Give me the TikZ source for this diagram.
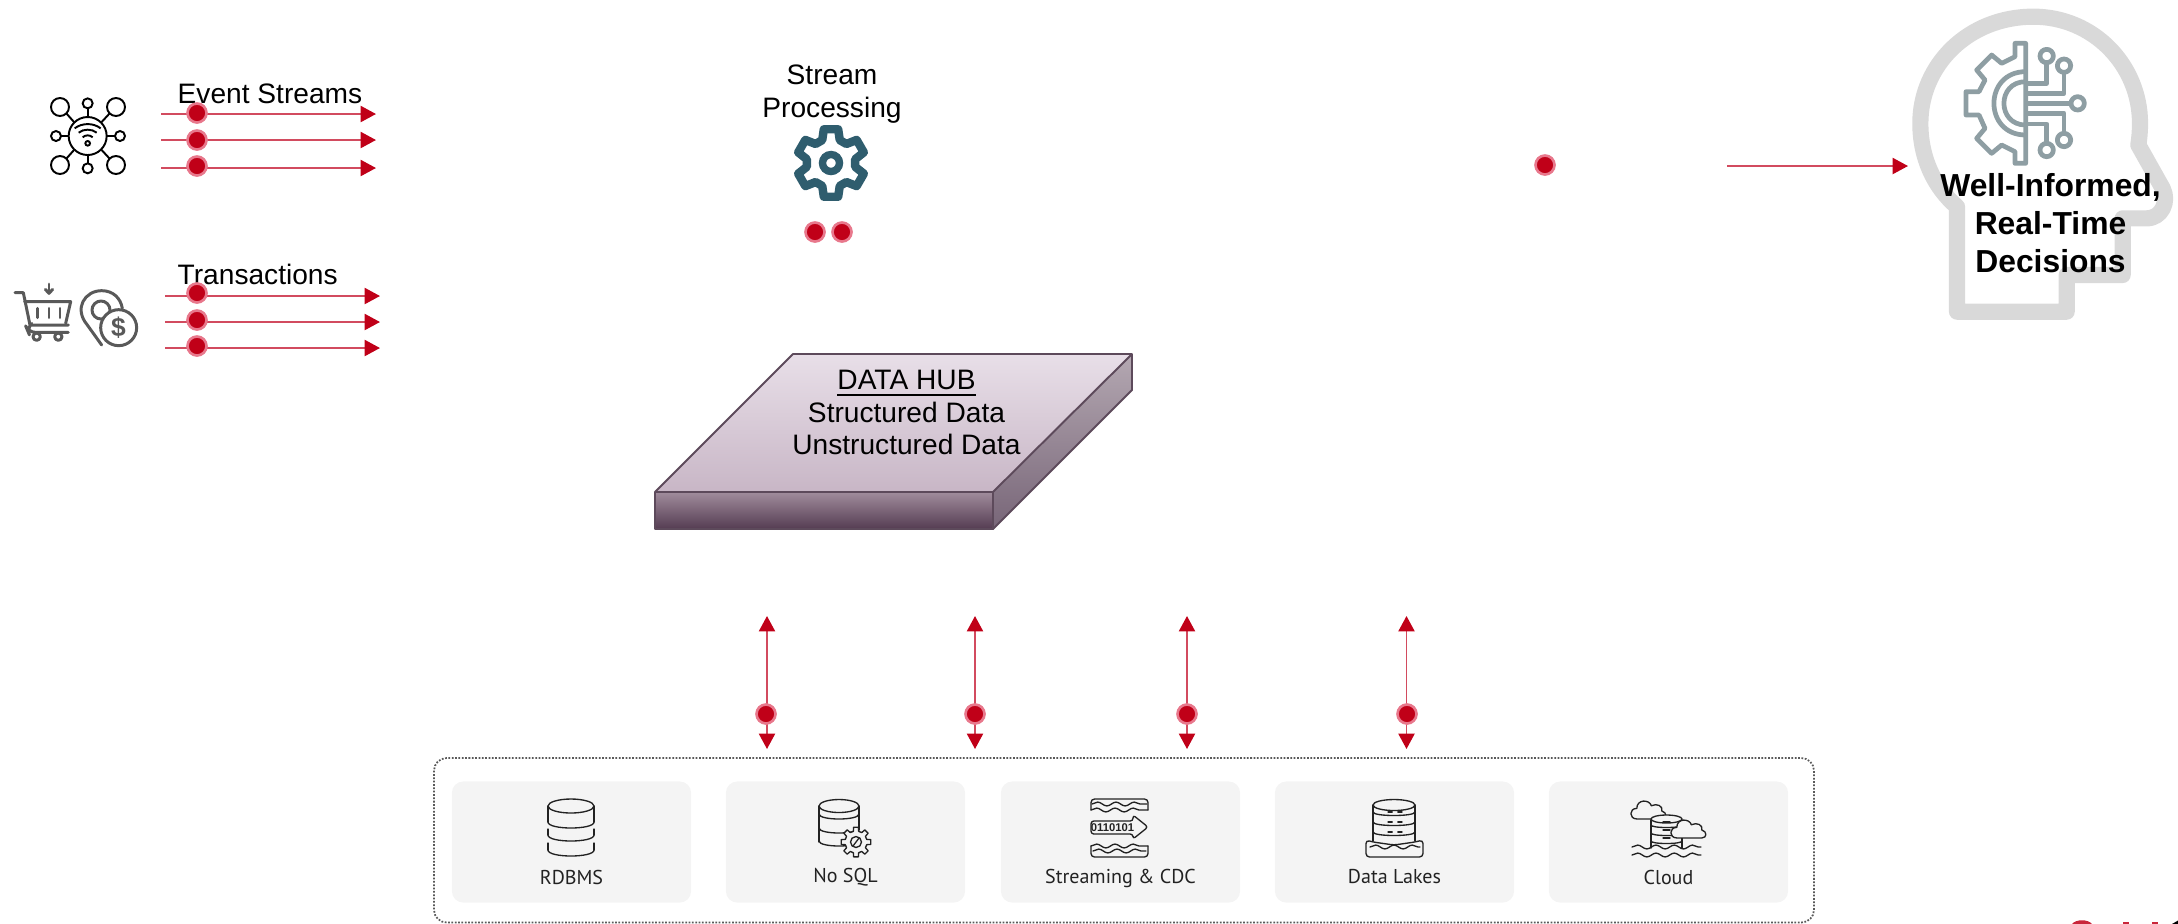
\documentclass[tikz,border=0pt]{standalone}
\usepackage{fontspec}
\setmainfont{Liberation Sans}
\newfontfamily\cardfont{PT Sans}
\usetikzlibrary{arrows.meta,decorations.pathmorphing}
\definecolor{flowred}{HTML}{C00018}
\definecolor{flowline}{HTML}{D24B5F}
\definecolor{flowring}{HTML}{E8788C}
\definecolor{headgray}{HTML}{D9D9D9}
\definecolor{gearblue}{HTML}{2F5D6E}
\definecolor{chipgray}{HTML}{8E9EA3}
\definecolor{cardgray}{HTML}{F4F4F4}
\definecolor{hubline}{HTML}{5D4A5B}
\definecolor{iconink}{HTML}{222222}
\definecolor{shopink}{HTML}{595959}
\definecolor{hubtop}{HTML}{E8DFE8}
\definecolor{hubtopb}{HTML}{C8B6C6}
\definecolor{hubfront}{HTML}{A08C9C}
\definecolor{hubfrontb}{HTML}{553C52}
\definecolor{hubside}{HTML}{B4A8B2}
\definecolor{hubsideb}{HTML}{786678}
\tikzset{
  flowarrow/.style={draw=flowline,line width=0.55pt,-{Triangle[length=4.4pt,width=4.6pt,color=flowred]}},
  flowboth/.style={draw=flowline,line width=0.55pt,{Triangle[length=4.4pt,width=4.6pt,color=flowred]}-{Triangle[length=4.4pt,width=4.6pt,color=flowred]}},
  dot/.style={circle,fill=flowred,draw=flowring,line width=0.75pt,minimum size=0.19cm,inner sep=0pt,outer sep=0pt},
  lab/.style={font=\fontsize{8}{9.2}\selectfont,inner sep=0pt,text=black},
  cardbox/.style={fill=cardgray,rounded corners=3.2pt},
  cardlabel/.style={font=\cardfont\fontsize{5.7}{7}\selectfont,text=iconink,inner sep=0pt},
  icon/.style={draw=iconink,line width=0.38pt,line join=round,line cap=round},
  netink/.style={draw=black,line width=0.55pt},
  shop/.style={draw=shopink,line width=0.85pt,line join=round,line cap=round},
  chip/.style={draw=chipgray,line width=1.35pt,line join=round},
  wave/.style={decorate,decoration={snake,amplitude=0.55pt,segment length=5.2pt}},
}
% gear outline: centre x, y, valley radius, tip radius, teeth, half width of tip, half width of foot
\newcommand\gearoutline[8]{%
  \draw[#1] ({#2+#4*cos(90-#8)},{#3-#4*sin(90-#8)})
  \foreach \gi in {1,...,#6}{
    -- ({#2+#5*cos(90+(\gi-1)*360/#6-#7)},{#3-#5*sin(90+(\gi-1)*360/#6-#7)})
    -- ({#2+#5*cos(90+(\gi-1)*360/#6+#7)},{#3-#5*sin(90+(\gi-1)*360/#6+#7)})
    -- ({#2+#4*cos(90+(\gi-1)*360/#6+#8)},{#3-#4*sin(90+(\gi-1)*360/#6+#8)})
    -- ({#2+#4*cos(90+\gi*360/#6-#8)},{#3-#4*sin(90+\gi*360/#6-#8)})
  } -- cycle;}
% lower arc of a database drum
\newcommand\drumarc[4]{\draw[icon] (#1-#3,#2) .. controls (#1-#3,#2+#4*1.33) and (#1+#3,#2+#4*1.33) .. (#1+#3,#2);}
\newcommand\cloudshape[3]{%
  \begin{scope}[shift={(#1,#2)},scale=#3]
  \draw[icon,fill=cardgray] (-20,12) .. controls (-32,12) and (-32,-4) .. (-20,-4)
    .. controls (-20,-18) and (-1,-18) .. (2,-8) .. controls (10,-12) and (20,-8) .. (18,0)
    .. controls (26,2) and (26,12) .. (18,12) -- cycle;
  \end{scope}}
\begin{document}
\begin{tikzpicture}[x=0.01cm,y=-0.01cm]
\useasboundingbox (0,0) rectangle (2178,923);

% ---------- head ----------
\begin{scope}[shift={(1880,0)},scale=1/3]
  \draw[draw=headgray,line width=4.6pt,line join=round,rounded corners=0pt]
    (231,620) .. controls (160,560) and (121,470) .. (121,370)
    .. controls (121,195) and (265,50) .. (460,50)
    .. controls (640,50) and (780,195) .. (780,370)
    .. controls (780,395) and (778,415) .. (775,435)
    -- (848,565) .. controls (868,605) and (845,655) .. (800,655)
    -- (728,655) -- (728,825) -- (560,825) -- (560,935) -- (231,935) -- cycle;
  % chip gear
  \draw[chip] (437,130) -- (405,130) -- (405,170) -- (365,190) -- (335,165) -- (290,210) -- (315,240)
    -- (297,275) -- (258,275) -- (258,345) -- (297,345) -- (315,385) -- (290,415) -- (335,460)
    -- (365,435) -- (405,455) -- (405,490) -- (437,490) -- cycle;
  \draw[chip] (437,215) .. controls (310,215) and (310,405) .. (437,405);
  \draw[chip] (437,245) .. controls (350,245) and (350,375) .. (437,375);
  \draw[chip] (437,250) -- (500,250) -- (500,188);
  \draw[chip] (437,280) -- (552,280) -- (552,217);
  \draw[chip] (437,310) -- (573,310);
  \draw[chip] (437,340) -- (552,340) -- (552,400);
  \draw[chip] (437,372) -- (500,372) -- (500,430);
  \draw[chip] (500,168) circle[radius=20];
  \draw[chip] (552,197) circle[radius=20];
  \draw[chip] (593,310) circle[radius=20];
  \draw[chip] (552,420) circle[radius=20];
  \draw[chip] (500,450) circle[radius=20];
\end{scope}
\node[font=\bfseries\fontsize{9.05}{10.9}\selectfont,align=center,inner sep=0pt] (decisions) at (2050.5,223)
  {Well-Informed,\\Real-Time\\Decisions};

% ---------- event stream icon ----------
\begin{scope}[shift={(0,60)},scale=1/3]
  \draw[netink] (263,228) circle[radius=57];
  \foreach \sx/\sy in {180/141,348/141,180/315,348/315}{\draw[netink] (\sx,\sy) circle[radius=27];}
  \foreach \sx/\sy in {263/130,263/325,168/228,360/228}{\draw[netink] (\sx,\sy) circle[radius=15];}
  \draw[netink] (199,160) -- (222,186);
  \draw[netink] (329,160) -- (305,186);
  \draw[netink] (199,296) -- (222,270);
  \draw[netink] (329,296) -- (305,270);
  \draw[netink] (263,145) -- (263,171);
  \draw[netink] (263,285) -- (263,310);
  \draw[netink] (183,228) -- (206,228);
  \draw[netink] (320,228) -- (345,228);
  \draw[netink] (263,250) circle[radius=7];
  \draw[netink] (248,232) .. controls (256,224) and (270,224) .. (278,232);
  \draw[netink] (236,218) .. controls (250,206) and (276,206) .. (290,218);
  \draw[netink] (224,205) .. controls (246,188) and (280,188) .. (302,205);
\end{scope}

% ---------- shopping icons ----------
\begin{scope}[shift={(0,60)},scale=1/3]
  \draw[shop] (45,698) -- (70,698) -- (90,795) -- (205,795);
  \draw[shop] (74,725) -- (212,725) -- (197,790);
  \draw[shop,rounded corners=2pt] (90,795) -- (80,805) -- (85,817) -- (205,817);
  \draw[shop] (110,830) circle[radius=11];
  \draw[shop] (175,830) circle[radius=11];
  \draw[shop] (113,745) -- (113,773);
  \draw[shop] (147,745) -- (147,773);
  \draw[shop] (180,745) -- (180,773);
  \draw[shop] (147,672) -- (147,695);
  \draw[shop] (136,688) -- (147,700) -- (158,688);
  \draw[shop] (305,855) -- (262,795) .. controls (220,745) and (255,692) .. (305,692)
     .. controls (340,692) and (362,715) .. (367,745);
  \draw[shop] (303,750) circle[radius=27];
  \draw[shop,fill=white] (356,803) circle[radius=54];
\end{scope}
\node[font=\bfseries\fontsize{7.5}{8}\selectfont,text=shopink,inner sep=0pt] (dollar) at (118.5,327.5) {\$};

% ---------- texts ----------
\node[lab,anchor=base west] (eventlabel) at (177,103) {Event Streams};
\node[lab,anchor=base west] (txlabel) at (177,284) {Transactions};
\node[lab,align=center] (streamlabel) at (832,94) {Stream\\Processing};

% ---------- stream processing gear ----------
\gearoutline{draw=gearblue,line width=2.4pt,line join=round}{831}{163}{24.5}{34.5}{6}{12}{21}
\draw[draw=gearblue,line width=2.1pt] (831,163) circle[radius=8.5];

% ---------- input arrows ----------
\coordinate (es1a) at (161,114); \coordinate (es1b) at (376,114);
\coordinate (es2a) at (161,140); \coordinate (es2b) at (376,140);
\coordinate (es3a) at (161,168); \coordinate (es3b) at (376,168);
\coordinate (tx1a) at (165,296); \coordinate (tx1b) at (380,296);
\coordinate (tx2a) at (165,322); \coordinate (tx2b) at (380,322);
\coordinate (tx3a) at (165,348); \coordinate (tx3b) at (380,348);
\coordinate (outa) at (1727,166); \coordinate (outb) at (1908,166);
\draw[flowarrow] (es1a) -- (es1b);
\draw[flowarrow] (es2a) -- (es2b);
\draw[flowarrow] (es3a) -- (es3b);
\draw[flowarrow] (tx1a) -- (tx1b);
\draw[flowarrow] (tx2a) -- (tx2b);
\draw[flowarrow] (tx3a) -- (tx3b);
\draw[flowarrow] (outa) -- (outb);
\node[dot] (esd1) at (197,113) {};
\node[dot] (esd2) at (197,140) {};
\node[dot] (esd3) at (197,166) {};
\node[dot] (txd1) at (197,293) {};
\node[dot] (txd2) at (197,320) {};
\node[dot] (txd3) at (197,346) {};
\node[dot] (spd1) at (815,232) {};
\node[dot] (spd2) at (842,232) {};
\node[dot] (outd) at (1545,165) {};

% ---------- data hub ----------
\shade[top color=hubtop,bottom color=hubtopb] (793,354) -- (1132,354) -- (993,492) -- (655,492) -- cycle;
\shade[top color=hubfront,bottom color=hubfrontb] (655,492) -- (993,492) -- (993,529) -- (655,529) -- cycle;
\shade[top color=hubside,bottom color=hubsideb] (993,492) -- (1132,354) -- (1132,390) -- (993,529) -- cycle;
\draw[draw=hubline,line width=0.55pt,line join=round] (793,354) -- (1132,354) -- (1132,390) -- (993,529) -- (655,529) -- (655,492) -- cycle;
\draw[draw=hubline,line width=0.55pt,line join=round] (655,492) -- (993,492) -- (1132,354);
\draw[draw=hubline,line width=0.55pt] (993,492) -- (993,529);
\node[lab,align=center] (hub) at (906.5,412.5) {\underline{DATA HUB}\\Structured Data\\Unstructured Data};

% ---------- source panel ----------
\draw[draw=black!65,line width=0.5pt,dash pattern=on 0.5pt off 0.45pt,rounded corners=3.6pt] (434,758) rectangle (1814,922.5);
\node[cardbox,minimum width=2.39cm,minimum height=1.21cm,inner sep=0pt] (rdbms) at (571.5,842) {};
\node[cardbox,minimum width=2.39cm,minimum height=1.21cm,inner sep=0pt] (nosql) at (845.5,842) {};
\node[cardbox,minimum width=2.39cm,minimum height=1.21cm,inner sep=0pt] (streaming) at (1120.5,842) {};
\node[cardbox,minimum width=2.39cm,minimum height=1.21cm,inner sep=0pt] (lakes) at (1394.5,842) {};
\node[cardbox,minimum width=2.39cm,minimum height=1.21cm,inner sep=0pt] (cloud) at (1668.5,842) {};
\node[cardlabel] (rdbmslabel) at (571.5,877) {RDBMS};
\node[cardlabel] (nosqllabel) at (845.5,877) {No SQL};
\node[cardlabel] (streamingtext) at (1120.5,878) {Streaming \& CDC};
\node[cardlabel] (lakeslabel) at (1394.5,877) {Data Lakes};
\node[cardlabel] (cloudlabel) at (1668.5,877) {Cloud};

% RDBMS icon
\draw[icon] (571,806) ellipse[x radius=23,y radius=7];
\draw[icon] (548,806) -- (548,822);
\draw[icon] (594,806) -- (594,822);
\drumarc{571}{822}{23}{6}
\draw[icon] (548,829) -- (548,835);
\draw[icon] (594,829) -- (594,835);
\drumarc{571}{835}{23}{6}
\draw[icon] (548,843) -- (548,850);
\draw[icon] (594,843) -- (594,850);
\drumarc{571}{850}{23}{6}

% No SQL icon
\draw[icon] (839,806) ellipse[x radius=20,y radius=6.5];
\draw[icon] (819,806) -- (819,842);
\draw[icon] (859,806) -- (859,830);
\drumarc{839}{814}{20}{5}
\drumarc{839}{828}{20}{5}
\drumarc{839}{841}{20}{5}
\gearoutline{icon,fill=cardgray}{856}{842}{11}{15}{8}{9}{14}
\draw[icon] (856,842) circle[radius=5.5];
\draw[icon] (853,846) -- (859,838);

% Streaming & CDC icon
\draw[icon,rounded corners=1pt] (1148,810) -- (1148,799) -- (1091,799) -- (1091,810);
\draw[icon,wave] (1092,804) -- (1147,804);
\draw[icon,wave] (1091,810) -- (1148,810);
\draw[icon,rounded corners=0.8pt] (1091,821) -- (1133,821) -- (1133,815) -- (1148,827) -- (1133,839) -- (1133,834) -- (1091,834) -- cycle;
\node[font=\bfseries\fontsize{3.2}{4}\selectfont,text=iconink,inner sep=0pt] (bits) at (1112.5,827.5) {0110101};
\draw[icon,rounded corners=1pt] (1091,846) -- (1091,857) -- (1148,857) -- (1148,846);
\draw[icon,wave] (1091,846) -- (1148,846);
\draw[icon,wave] (1093,851) -- (1146,851);

% Data Lakes icon
\draw[icon] (1394,805) ellipse[x radius=21,y radius=5.5];
\draw[icon] (1373,805) -- (1373,841);
\draw[icon] (1415,805) -- (1415,841);
\drumarc{1394}{812}{21}{3.5}
\drumarc{1394}{822}{21}{3.5}
\drumarc{1394}{832}{21}{3.5}
\foreach \ly in {812,822,832}{\draw[icon,dash pattern=on 1.2pt off 1.6pt] (1388,\ly) -- (1403,\ly);}
\draw[icon,rounded corners=1pt,fill=cardgray] (1366,840) -- (1366,857) -- (1423,857) -- (1423,840) -- (1415,842) -- (1394,845) -- (1373,842) -- cycle;
\draw[icon,wave] (1370,847) -- (1420,847);

% Cloud icon
\draw[icon] (1651,820) -- (1651,848);
\draw[icon] (1682,820) -- (1682,848);
\cloudshape{1650}{811}{0.66}
\draw[icon,fill=cardgray] (1666.5,819) ellipse[x radius=15.5,y radius=4];
\drumarc{1666.5}{825}{15.5}{2.5}
\drumarc{1666.5}{833}{15.5}{2.5}
\drumarc{1666.5}{841}{15.5}{2.5}
\foreach \ly in {822,830,838}{\draw[icon] (1663,\ly) -- (1670,\ly);}
\cloudshape{1690}{830}{0.66}
\draw[icon,wave] (1632,847) -- (1701,847);
\draw[icon,wave] (1632,855) -- (1701,855);

% ---------- hub connectors ----------
\coordinate (h1a) at (767,616); \coordinate (h1b) at (767,749);
\coordinate (h2a) at (975,616); \coordinate (h2b) at (975,749);
\coordinate (h3a) at (1187,616); \coordinate (h3b) at (1187,749);
\coordinate (h4a) at (1406.5,616); \coordinate (h4b) at (1406.5,749);
\draw[flowboth] (h1a) -- (h1b);
\draw[flowboth] (h2a) -- (h2b);
\draw[flowboth] (h3a) -- (h3b);
\draw[flowboth] (h4a) -- (h4b);
\node[dot] (hd1) at (766,714) {};
\node[dot] (hd2) at (975,714) {};
\node[dot] (hd3) at (1187,714) {};
\node[dot] (hd4) at (1407,714) {};

% ---------- cut-off mark at the lower right ----------
\fill[flowred!85] (2072,924) .. controls (2076,919) and (2088,919) .. (2092,924) -- cycle;
\fill[flowred!85] (2123,921.5) rectangle (2129,924);
\fill[flowred!85] (2152,921.5) rectangle (2158,924);
\fill[black] (2172,924) -- (2178,920.5) -- (2178,924) -- cycle;
\end{tikzpicture}
\end{document}
